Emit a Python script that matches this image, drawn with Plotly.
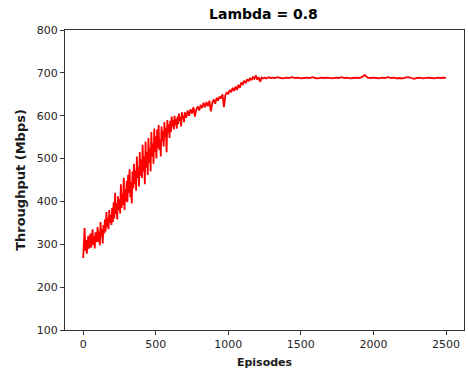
import plotly.graph_objects as go

# Episode indices (sampled)
episodes = list(range(0, 700, 5)) + list(range(700, 1300, 10)) + list(range(1300, 2500, 20)) + [2499]

# Throughput values (Mbps)
throughput_early = [
    268, 300, 338, 285, 310, 278, 295, 320, 290, 305,
    325, 292, 310, 335, 298, 318, 290, 328, 305, 315,
    340, 305, 330, 298, 352, 318, 335, 302, 345, 325,
    358, 330, 375, 340, 362, 335, 380, 350, 368, 345,
    385, 352, 398, 360, 420, 370, 395, 358, 412, 380,
    405, 372, 440, 385, 418, 392, 455, 380, 428, 400,
    448, 398, 462, 420, 475, 410, 445, 395, 470, 430,
    488, 440, 472, 425, 505, 455, 480, 435, 515, 460,
    498, 455, 532, 470, 505, 440, 540, 478, 515, 462,
    548, 490, 525, 470, 562, 505, 535, 488, 570, 515,
    552, 500, 568, 525, 578, 520, 545, 505, 575, 540,
    565, 528, 585, 550, 572, 515, 590, 560, 580, 548,
    588, 562, 598, 575, 590, 568, 600, 578, 592, 570,
    598, 580, 605, 588, 596, 575, 608, 592, 600, 585,
]
throughput_mid = [
    608, 595, 612, 600, 615,
    605, 620, 598, 615, 622,
    612, 625, 618, 630, 620,
    632, 622, 635, 610, 630,
    638, 628, 642, 635, 645,
    640, 650, 620, 648, 655,
    650, 660, 655, 665, 658,
    668, 660, 672, 665, 678,
    672, 682, 676, 685, 680,
    688, 683, 690, 686, 694,
    684, 690, 679, 689, 687,
    689, 687, 688, 690, 688,
]
throughput_flat = [
    689, 688, 690, 688, 687, 689, 688, 690, 688, 689,
    687, 688, 689, 688, 690, 688, 687, 689, 688, 689,
    688, 687, 689, 688, 690, 688, 689, 687, 688, 689,
    688, 690, 695, 689, 688, 689, 688, 687, 689, 688,
    690, 688, 689, 687, 688, 687, 689, 690, 688, 686,
    688, 689, 687, 688, 689, 688, 687, 689, 688, 689,
    688,
]
throughput = throughput_early + throughput_mid + throughput_flat
assert len(throughput) == len(episodes)

x_ticks = [0, 500, 1000, 1500, 2000, 2500]
y_ticks = [100, 200, 300, 400, 500, 600, 700, 800]

fig = go.Figure()
fig.add_trace(go.Scatter(x=episodes, y=throughput, mode="lines",
                         line=dict(color="red", width=1.8)))

axis_common = dict(showline=True, linecolor="#333333", linewidth=1, mirror=True,
                   ticks="outside", ticklen=4, tickcolor="#333333", showgrid=False,
                   zeroline=False, tickfont=dict(family="DejaVu Sans", size=11, color="#262626"))

fig.update_layout(
    width=468, height=380,
    margin=dict(l=65, r=4, t=30, b=50),
    paper_bgcolor="white", plot_bgcolor="white",
    showlegend=False,
    title=dict(text="<b>Lambda = 0.8</b>", x=0.563, xanchor="center", y=0.963, yanchor="middle",
               font=dict(family="DejaVu Sans", size=14, color="black")),
    xaxis=dict(range=[-125, 2624], tickvals=x_ticks,
               title=dict(text="<b>Episodes</b>", font=dict(family="DejaVu Sans", size=11, color="#1a1a1a"), standoff=8),
               **axis_common),
    yaxis=dict(range=[100, 800], tickvals=y_ticks,
               title=dict(text="<b>Throughput (Mbps)</b>", font=dict(family="DejaVu Sans", size=13, color="#1a1a1a"), standoff=8),
               **axis_common),
)

fig.write_html("out.html")
